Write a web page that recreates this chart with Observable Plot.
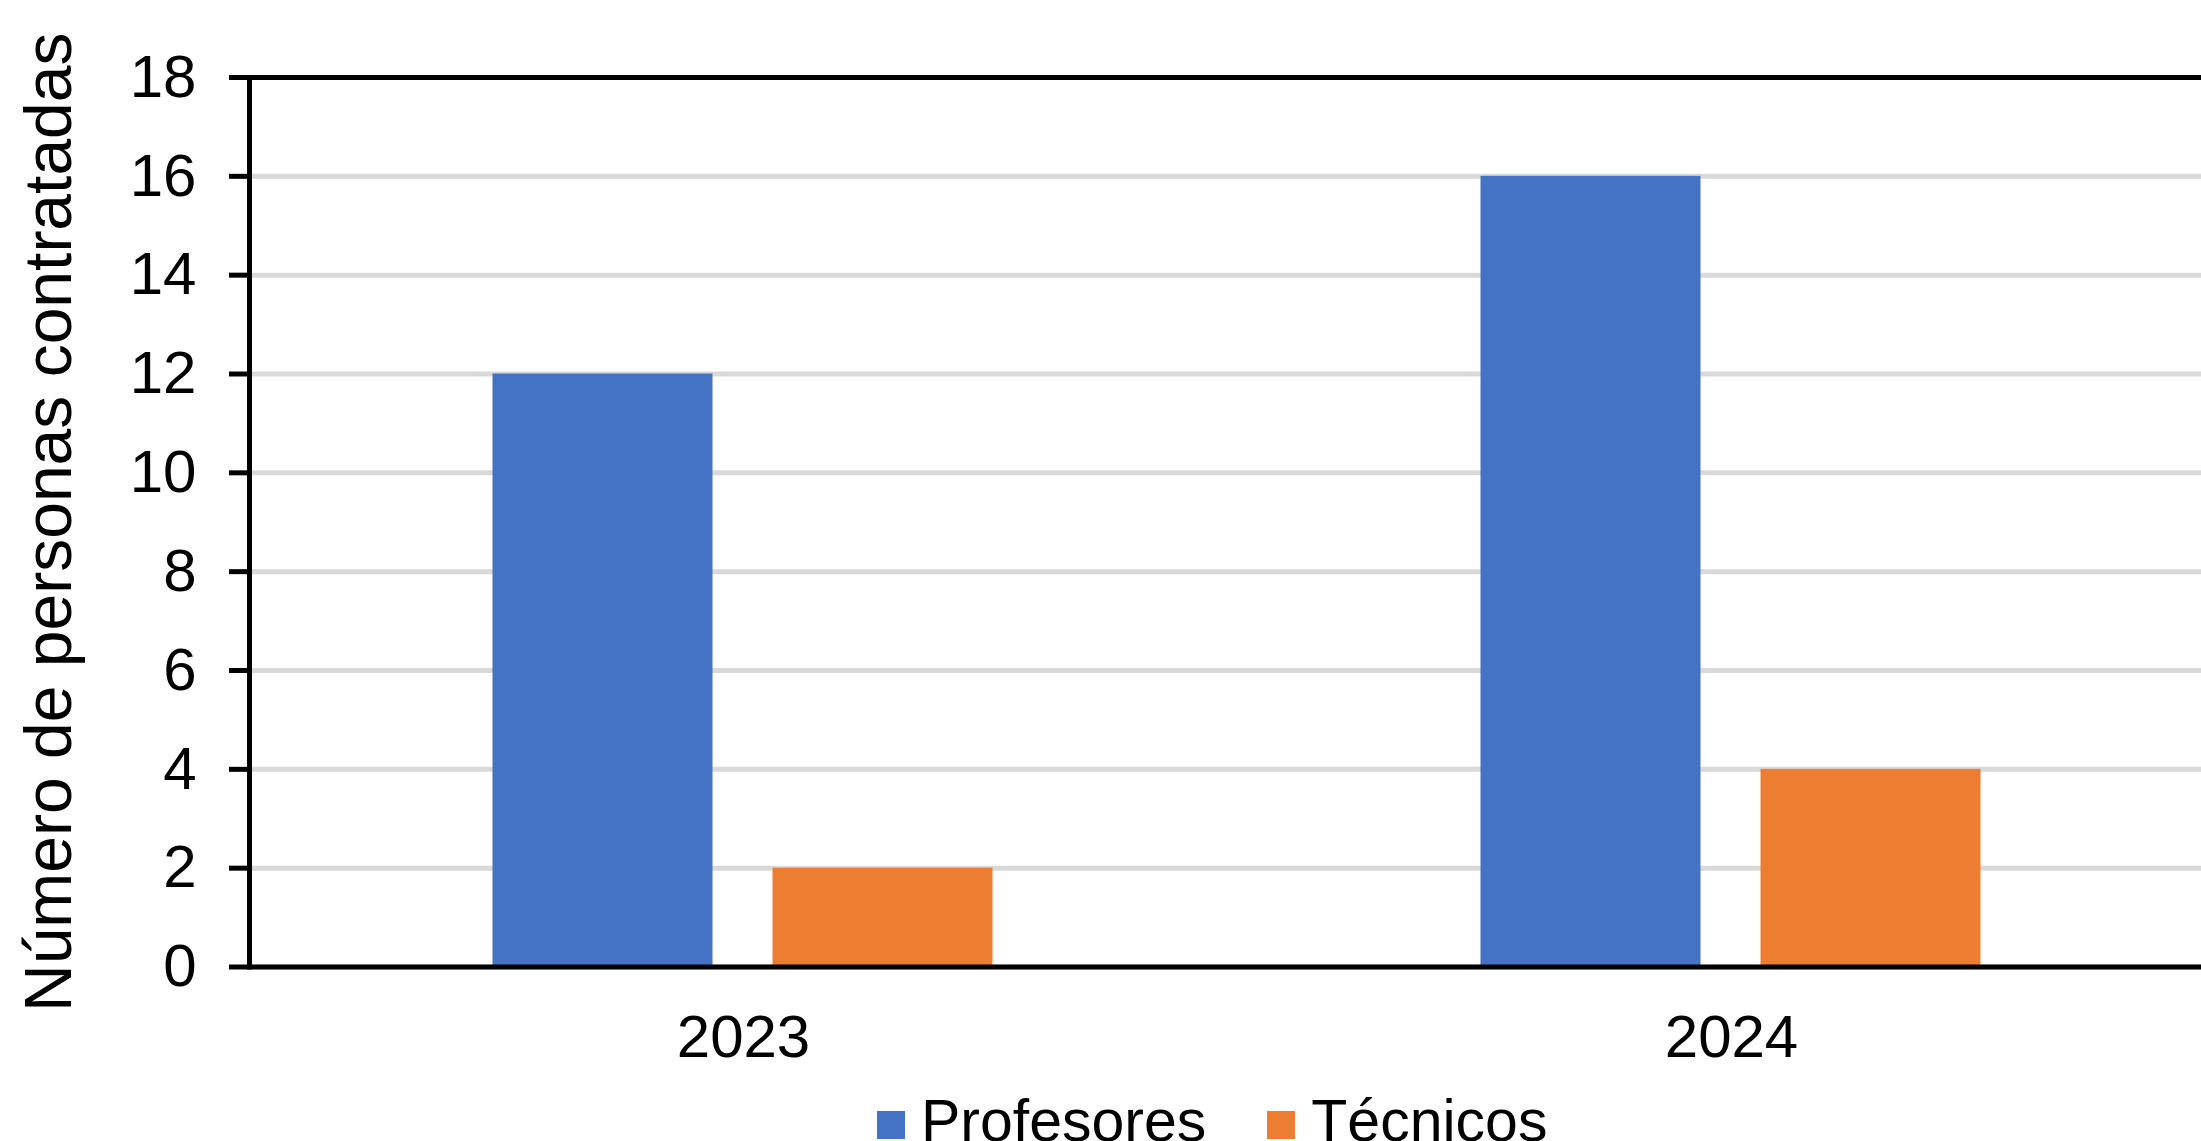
<!DOCTYPE html>
<html>
<head>
<meta charset="utf-8">
<script src="https://cdn.jsdelivr.net/npm/d3@7"></script>
<script src="https://cdn.jsdelivr.net/npm/@observablehq/plot@0.6"></script>
<style>
html, body { margin: 0; padding: 0; background: #fff; overflow: hidden; width: 2201px; height: 1141px; }
#wrap { position: relative; width: 2201px; height: 1141px; overflow: hidden; }
#chart svg { max-width: none; display: block; }
#legend { position: absolute; left: 877px; top: 1087px; }
#legend div { font-family: "Liberation Sans", Arial, sans-serif; font-size: 59px; color: #000; margin: 0; min-height: 0; }
#legend span { margin-right: 61px; }
#legend svg { margin-right: 16px; position: relative; top: 4px; }
</style>
</head>
<body>
<div id="wrap">
  <div id="chart"></div>
  <div id="legend"></div>
</div>
<script>
const years = ["2023", "2024"];
const series = ["Profesores", "Técnicos"];
const profesores = [12, 16];
const tecnicos = [2, 4];
const colors = ["#4472C4", "#ED7D31"];
const yTicks = [0, 2, 4, 6, 8, 10, 12, 14, 16, 18];
const yLabel = "Número de personas contratadas";

const data = years.flatMap((yr, i) => [
  {year: yr, serie: series[0], value: profesores[i]},
  {year: yr, serie: series[1], value: tecnicos[i]}
]);

const H = 1080;
const plot = Plot.plot({
  width: 2226,
  height: H,
  marginLeft: 248.5,
  marginRight: 0,
  marginTop: 77,
  marginBottom: H - 966.5,
  style: {fontFamily: "Liberation Sans, Arial, sans-serif", background: "white", color: "black"},
  fx: {domain: years, padding: 0, label: null},
  x: {domain: series, paddingInner: 0.2135, paddingOuter: 0.8675, axis: null},
  y: {domain: [0, 18], label: null},
  color: {domain: series, range: colors},
  marks: [
    Plot.gridY(yTicks, {stroke: "#d9d9d9", strokeOpacity: 1, strokeWidth: 5}),
    Plot.barY(data, {fx: "year", x: "serie", y: "value", fill: "serie"}),
    Plot.ruleY([0, 18], {stroke: "black", strokeWidth: 5}),
    Plot.frame({anchor: "left", facetAnchor: "left", stroke: "black", strokeWidth: 5}),
    Plot.axisY(yTicks, {anchor: "left", tickSize: 20, tickPadding: 33, strokeWidth: 5, fontSize: 60, label: null}),
    Plot.axisY([], {anchor: "left", tickSize: 0, fontSize: 66, label: yLabel, labelAnchor: "center", labelOffset: 225, labelArrow: "none", dx: 8}),
    Plot.axisFx({anchor: "bottom", tickSize: 0, tickPadding: 47, fontSize: 60, label: null})
  ]
});
document.getElementById("chart").appendChild(plot);

const legend = Plot.legend({color: {domain: series, range: colors}, swatchSize: 28, className: "lg"});
document.getElementById("legend").appendChild(legend);
</script>
</body>
</html>
